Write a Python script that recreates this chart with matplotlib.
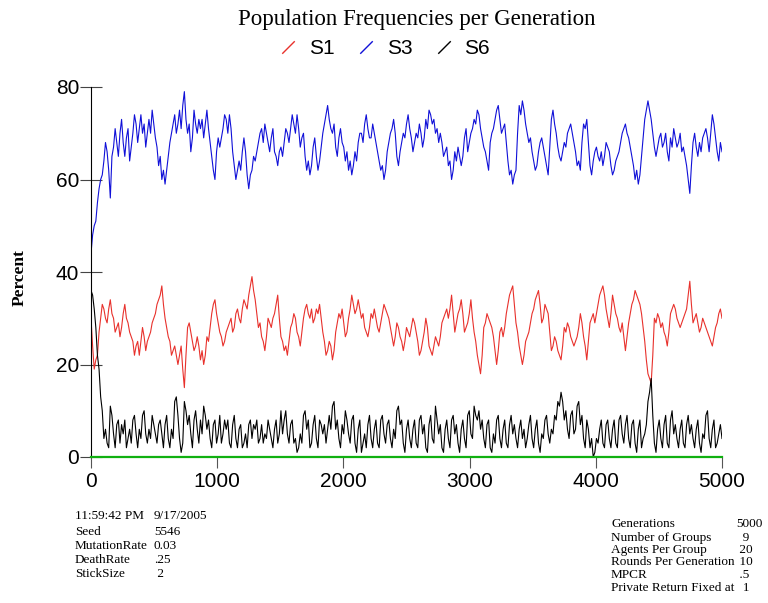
import numpy as np
import matplotlib
matplotlib.use("Agg")
import matplotlib.pyplot as plt
from matplotlib.lines import Line2D

# population share (%) read every ~25 generations, 0..5000
s1 = [30, 19, 22, 30, 32, 29, 34, 30, 28, 26, 31, 30, 27, 25, 24, 22, 28, 23, 26, 29,
      31, 34, 37, 30, 26, 22, 24, 20, 24, 15, 28, 27, 23, 26,
      21, 20, 26, 28, 33, 31, 27, 24, 27, 29, 27, 31, 30, 32, 33, 35, 39, 34, 28, 26,
      23, 30, 28, 31, 35, 26, 23, 22, 28, 31, 27, 24, 30,
      33, 30, 29, 32, 33, 27, 22, 25, 21, 27, 31, 32, 26, 30, 35, 31, 34, 30, 28, 26,
      31, 32, 28, 29, 33, 31, 28, 24, 29, 26, 23, 28, 26,
      30, 27, 22, 25, 30, 24, 22, 26, 24, 29, 31, 30, 35, 27, 31, 34, 27, 29, 34, 27,
      22, 18, 28, 31, 29, 26, 20, 27, 26, 31, 35, 37, 29,
      24, 20, 25, 27, 31, 34, 36, 29, 33, 31, 23, 26, 23, 21, 28, 29, 26, 24, 26, 31,
      26, 21, 29, 31, 31, 35, 37, 32, 28, 35, 31, 28, 29, 23,
      29, 33, 36, 34, 31, 25, 18, 16, 30, 31, 28, 27, 24, 31, 33, 30, 28, 30, 32, 38,
      29, 31, 27, 30, 28, 26, 24, 28, 31, 30]
s3 = [44, 50, 55, 60, 64, 66, 56, 67, 68, 70, 68, 69, 64, 70, 72, 71, 70, 67, 73, 75,
      69, 63, 60, 59, 65, 70, 74, 72, 71, 79, 70, 66, 75, 70,
      71, 69, 75, 68, 62, 66, 67, 71, 73, 74, 66, 60, 64, 66, 66, 58, 62, 64, 68, 71,
      72, 68, 69, 66, 63, 67, 68, 70, 71, 72, 74, 67, 70,
      62, 61, 67, 65, 64, 70, 74, 73, 70, 67, 69, 68, 64, 62, 61, 66, 68, 70, 72, 71,
      69, 70, 66, 62, 60, 66, 70, 73, 65, 66, 70, 72, 71,
      66, 70, 72, 67, 73, 75, 72, 70, 68, 68, 66, 63, 60, 66, 67, 63, 69, 66, 70, 73,
      75, 71, 67, 64, 68, 71, 75, 73, 71, 68, 61, 59, 62,
      76, 77, 72, 68, 66, 62, 66, 69, 65, 61, 73, 72, 67, 64, 68, 70, 72, 68, 63, 62,
      72, 73, 63, 64, 67, 64, 63, 68, 66, 61, 64, 66, 70, 72,
      69, 65, 60, 59, 65, 73, 77, 73, 67, 67, 70, 68, 66, 69, 71, 67, 70, 67, 63, 57,
      68, 67, 68, 69, 71, 66, 74, 69, 64, 66]
s6 = [36, 32, 22, 13, 4, 3, 11, 5, 7, 3, 5, 2, 6, 8, 5, 6, 9, 5, 6, 9,
      5, 7, 5, 7, 4, 6, 12, 9, 1, 12, 7, 5, 8, 6,
      8, 11, 6, 4, 7, 3, 9, 5, 6, 3, 7, 4, 6, 2, 5, 7, 4, 6, 3, 7,
      5, 8, 4, 6, 3, 10, 8, 5, 7, 3, 1, 5, 9,
      6, 2, 7, 4, 8, 5, 3, 9, 11, 6, 4, 7, 10, 5, 8, 3, 6, 1, 5, 7,
      4, 6, 3, 8, 5, 7, 4, 6, 10, 7, 3, 6, 4,
      6, 3, 8, 5, 2, 7, 4, 11, 5, 2, 6, 4, 8, 5, 3, 6, 4, 9, 5, 11,
      8, 6, 4, 7, 2, 5, 8, 4, 6, 3, 7, 5, 4,
      6, 4, 2, 7, 4, 6, 3, 5, 8, 5, 6, 9, 12, 14, 8, 6, 9, 5, 11, 7,
      4, 8, 2, 0, 4, 6, 3, 7, 4, 6, 3, 8, 5, 7,
      4, 7, 3, 6, 2, 5, 12, 17, 3, 6, 4, 7, 3, 8, 5, 4, 6, 3, 7, 5,
      4, 6, 3, 5, 9, 4, 6, 2, 5, 4]

# in-between readings (the fast jitter between the samples above)
s1_mid = [24, 21, 27, 33, 30, 32, 31, 27, 29, 28, 33, 29, 26, 22, 25, 25, 26, 25, 27, 30,
          33, 35, 33, 28, 25, 23, 22, 22, 19, 22, 29, 25, 24, 24,
          23, 22, 25, 31, 34, 29, 26, 25, 28, 30, 28, 32, 29, 34, 32, 37, 36, 31, 29, 25,
          26, 29, 30, 33, 30, 25, 24, 25, 29, 30, 26, 27, 32,
          31, 32, 30, 31, 30, 25, 23, 24, 23, 29, 30, 29, 27, 32, 33, 32, 32, 31, 27, 28,
          30, 30, 27, 31, 32, 30, 26, 26, 28, 25, 25, 27, 28,
          29, 25, 23, 27, 28, 23, 24, 25, 26, 30, 32, 32, 31, 29, 32, 31, 28, 31, 30, 25,
          20, 22, 29, 30, 28, 23, 23, 28, 28, 33, 36, 33, 27,
          22, 22, 26, 29, 32, 35, 33, 30, 32, 27, 24, 25, 22, 24, 27, 28, 25, 25, 28, 29,
          24, 25, 30, 29, 33, 36, 35, 30, 31, 33, 30, 27, 26, 26,
          31, 34, 35, 33, 28, 21, 17, 22, 29, 30, 29, 26, 27, 32, 32, 29, 29, 31, 35, 33,
          30, 29, 28, 29, 27, 25, 26, 29, 32]
s3_mid = [48, 51, 58, 61, 68, 62, 65, 71, 65, 73, 65, 71, 67, 74, 68, 74, 72, 70, 70, 72,
          67, 65, 62, 62, 68, 72, 70, 75, 76, 73, 72, 69, 72, 73,
          73, 72, 71, 65, 60, 69, 69, 74, 70, 71, 63, 62, 62, 69, 61, 61, 65, 66, 70, 68,
          70, 66, 71, 65, 66, 65, 71, 68, 74, 70, 71, 69, 65,
          64, 63, 69, 62, 67, 72, 76, 71, 72, 65, 71, 67, 66, 64, 63, 64, 70, 68, 74, 69,
          72, 68, 64, 63, 62, 68, 71, 70, 63, 68, 69, 74, 69,
          68, 69, 70, 69, 71, 74, 73, 71, 70, 65, 67, 64, 62, 64, 65, 65, 71, 68, 71, 72,
          74, 69, 66, 62, 70, 73, 76, 70, 72, 64, 62, 61, 70,
          74, 75, 70, 69, 64, 63, 68, 67, 63, 67, 75, 70, 65, 66, 67, 71, 70, 66, 64, 68,
          71, 68, 61, 66, 65, 66, 65, 67, 63, 62, 65, 68, 71, 70,
          67, 63, 62, 61, 69, 75, 75, 70, 65, 69, 67, 70, 64, 67, 69, 68, 66, 65, 60, 63,
          70, 65, 66, 70, 69, 70, 72, 66, 68]
s6_mid = [35, 28, 19, 10, 6, 2, 9, 2, 8, 7, 8, 4, 3, 9, 2, 4, 10, 3, 4, 7,
          3, 8, 2, 9, 2, 4, 13, 4, 3, 10, 9, 2, 10, 3,
          5, 9, 8, 2, 8, 5, 3, 8, 8, 2, 9, 2, 7, 3, 2, 8, 7, 8, 4, 3,
          4, 6, 2, 8, 5, 5, 10, 3, 8, 4, 2, 3, 10,
          8, 3, 9, 2, 7, 7, 6, 6, 12, 8, 2, 5, 8, 3, 9, 1, 8, 3, 2, 9,
          2, 8, 2, 9, 3, 8, 2, 4, 11, 8, 1, 8, 2,
          8, 2, 9, 7, 1, 9, 3, 8, 7, 1, 8, 2, 9, 7, 1, 8, 2, 10, 4, 9,
          10, 8, 2, 8, 1, 3, 9, 2, 8, 2, 9, 7, 2,
          8, 6, 4, 9, 2, 8, 1, 4, 9, 3, 5, 8, 11, 12, 10, 4, 10, 6, 12, 9,
          2, 6, 4, 1, 3, 8, 2, 8, 2, 8, 2, 9, 3, 9,
          2, 8, 1, 8, 4, 7, 14, 9, 1, 8, 2, 9, 2, 10, 7, 2, 8, 2, 9, 7,
          2, 8, 1, 4, 10, 2, 8, 3, 7]

series_names = ["S1", "S3", "S6"]
series_colors = ["#e8312c", "#1010d8", "black"]

run_labels = ["11:59:42 PM", "Seed", "MutationRate", "DeathRate", "StickSize"]
run_values = ["9/17/2005", "5546", "0.03", ".25", " 2"]
param_labels = ["Generations", "Number of Groups", "Agents Per Group",
                "Rounds Per Generation", "MPCR", "Private Return Fixed at"]
param_values = ["5000", "  9", " 20", " 10", " .5", "  1"]

W, H = 768, 603
fig = plt.figure(figsize=(W / 100, H / 100), dpi=100)
ax = fig.add_axes([91 / W, 1 - 457 / H, (722 - 91) / W, (457 - 87) / H])

for s, m, c in zip([s1, s3, s6], [s1_mid, s3_mid, s6_mid], series_colors):
    y = np.empty(len(s) + len(m))
    y[0::2] = s
    y[1::2] = m
    gen = np.linspace(0, 5000, len(y))
    ax.plot(gen, y, color=c, lw=0.8)

ax.set_xlim(0, 5000)
ax.set_ylim(0, 80)
ax.set_xticks(range(0, 5001, 1000))
ax.set_yticks(range(0, 81, 20))
for sp in ["top", "right"]:
    ax.spines[sp].set_visible(False)
ax.spines["left"].set_color("black")
ax.spines["bottom"].set_color("#10b010")
ax.spines["bottom"].set_linewidth(1.6)
ax.tick_params(axis="y", direction="inout", length=16, color="#444444", pad=0.5)
ax.tick_params(axis="x", direction="out", length=8, color="#555555", pad=3)
for lab in ax.get_xticklabels() + ax.get_yticklabels():
    lab.set_fontfamily("Liberation Sans")
    lab.set_fontsize(15)

fig.text(0.543, 0.968, "Population Frequencies per Generation",
         ha="center", va="center", family="Liberation Serif", fontsize=16.5)
fig.text(0.026, 0.54, "Percent", rotation=90, ha="center", va="center",
         family="Liberation Serif", fontsize=12.5, fontweight="bold")

handles = [Line2D([], [], color=c, linestyle="None", marker=[(-1, -1), (1, 1)],
                  markersize=9, markeredgewidth=1.0) for c in series_colors]
leg = fig.legend(handles, series_names, loc="center", bbox_to_anchor=(0.5, 0.919),
                 ncol=3, frameon=False, handlelength=1.0, handletextpad=0.5,
                 columnspacing=1.0, prop={"family": "Liberation Sans", "size": 15})

left_y = [516, 532, 546, 560, 574]
for yy, lab, val in zip(left_y, run_labels, run_values):
    fig.text(75 / W, 1 - yy / H, lab, va="center", family="Liberation Serif", fontsize=9.5)
    fig.text(154 / W, 1 - yy / H, val, va="center", family="Liberation Serif", fontsize=9.5)

right_y = [524, 538, 550, 562, 575, 588]
for yy, lab, val in zip(right_y, param_labels, param_values):
    fig.text(611 / W, 1 - yy / H, lab, va="center", family="Liberation Serif", fontsize=9.5)
    fig.text(736 / W, 1 - yy / H, val, va="center", family="Liberation Serif", fontsize=9.5)

fig.savefig("out.png", dpi=100)
